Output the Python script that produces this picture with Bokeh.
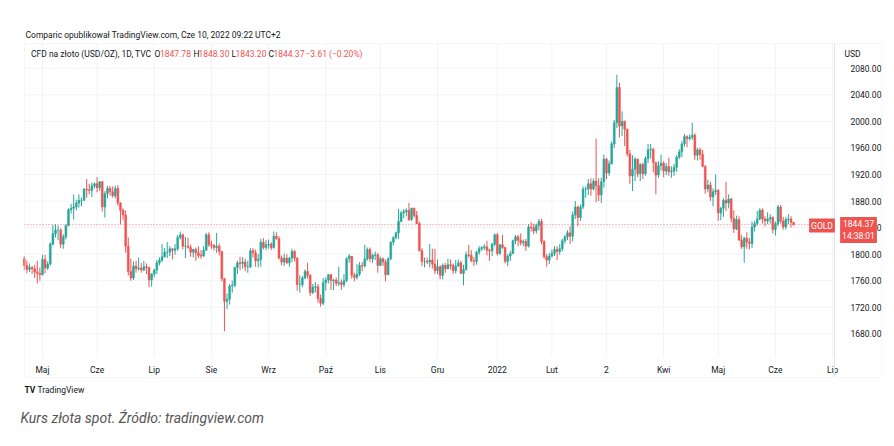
import pandas as pd
from bokeh.plotting import figure
from bokeh.models import (Range1d, FixedTicker, NumeralTickFormatter, Label,
                          BoxAnnotation, ColumnDataSource, LinearAxis)
from bokeh.embed import file_html
from bokeh.resources import INLINE

# ---------------- data (daily candles, CFD gold USD/OZ, TVC) ----------------
START = "2021-04-22"
END = "2022-06-10"

opens = [
    1793, 1783,
    1777, 1780, 1778, 1773, 1771,
    1769, 1792, 1779, 1785, 1815,
    1831, 1836, 1836, 1815, 1826,
    1843, 1867, 1869, 1871, 1877,
    1881, 1881, 1898, 1897, 1896,
    1903, 1906, 1900, 1909, 1871,
    1891, 1899, 1894, 1888, 1899,
    1877, 1866, 1859, 1812, 1774,
    1764, 1782, 1778, 1779, 1776,
    1781, 1780, 1761, 1770, 1776,
    1787, 1791, 1796, 1803, 1803,
    1808, 1806, 1808, 1825, 1829,
    1812, 1812, 1810, 1803, 1807,
    1802, 1798, 1797, 1806, 1829,
    1814, 1813, 1810, 1812, 1804,
    1763, 1729, 1732, 1752, 1753,
    1780, 1787, 1786, 1788, 1781,
    1781, 1805, 1802, 1790, 1792,
    1818, 1810, 1814, 1815, 1810,
    1827, 1823, 1794, 1788, 1794,
    1787, 1794, 1804, 1794, 1754,
    1754, 1764, 1774, 1768, 1742,
    1750, 1751, 1733, 1726, 1757,
    1761, 1769, 1760, 1761, 1756,
    1757, 1754, 1760, 1793, 1797,
    1768, 1765, 1770, 1783, 1782,
    1793, 1807, 1793, 1798, 1799,
    1783, 1793, 1788, 1769, 1793,
    1818, 1825, 1832, 1849, 1862,
    1864, 1866, 1852, 1869, 1858,
    1846, 1805, 1789, 1789, 1788,
    1791, 1785, 1775, 1781, 1768,
    1783, 1778, 1784, 1783, 1775,
    1782, 1787, 1771, 1777, 1799,
    1798, 1790, 1789, 1803, 1808,
    1810, 1811, 1806, 1805, 1815,
    1829, 1801, 1814, 1810, 1789,
    1797, 1801, 1820, 1826, 1821,
    1817, 1819, 1812, 1841, 1840,
    1835, 1843, 1849, 1819, 1796,
    1791, 1797, 1801, 1807, 1804,
    1808, 1820, 1826, 1832, 1827,
    1859, 1871, 1855, 1871, 1898,
    1898, 1906, 1898, 1910, 1903,
    1889, 1909, 1943, 1922, 1936,
    1966, 1998, 2051, 1993, 2000,
    1988, 1951, 1918, 1928, 1943,
    1921, 1935, 1921, 1944, 1957,
    1958, 1938, 1919, 1933, 1937,
    1925, 1932, 1924, 1925, 1931,
    1946, 1954, 1966, 1977, 1974,
    1976, 1979, 1949, 1957, 1950,
    1932, 1898, 1904, 1886, 1894,
    1896, 1862, 1869, 1881, 1877,
    1883, 1854, 1838, 1852, 1821,
    1811, 1824, 1818, 1816, 1841,
    1846, 1853, 1866, 1853, 1850,
    1853, 1855, 1837, 1846, 1871,
    1850, 1841, 1852, 1853, 1847.78,
]

highs = [
    1797, 1790,
    1786, 1782, 1784, 1790, 1780,
    1799, 1799, 1789, 1818, 1844,
    1845, 1843, 1839, 1830, 1845,
    1869, 1876, 1890, 1882, 1890,
    1885, 1899, 1913, 1906, 1908,
    1908, 1916, 1910, 1910, 1895,
    1903, 1903, 1902, 1903, 1904,
    1878, 1869, 1866, 1825, 1793,
    1789, 1790, 1795, 1787, 1790,
    1786, 1781, 1771, 1778, 1791,
    1795, 1815, 1809, 1818, 1812,
    1809, 1815, 1829, 1834, 1831,
    1826, 1825, 1814, 1808, 1810,
    1812, 1806, 1812, 1832, 1833,
    1820, 1815, 1832, 1816, 1805,
    1764, 1741, 1755, 1760, 1781,
    1790, 1796, 1795, 1793, 1790,
    1809, 1809, 1807, 1800, 1823,
    1824, 1821, 1822, 1818, 1834,
    1833, 1827, 1798, 1801, 1800,
    1796, 1808, 1806, 1795, 1768,
    1767, 1777, 1787, 1770, 1755,
    1758, 1755, 1739, 1764, 1765,
    1770, 1770, 1763, 1765, 1781,
    1762, 1770, 1795, 1800, 1797,
    1772, 1785, 1788, 1788, 1814,
    1810, 1810, 1801, 1804, 1802,
    1796, 1795, 1792, 1795, 1819,
    1827, 1834, 1868, 1865, 1868,
    1869, 1877, 1870, 1870, 1865,
    1849, 1809, 1795, 1795, 1815,
    1808, 1808, 1792, 1783, 1786,
    1787, 1793, 1792, 1786, 1791,
    1792, 1790, 1784, 1804, 1814,
    1806, 1796, 1805, 1812, 1812,
    1815, 1820, 1808, 1817, 1831,
    1832, 1815, 1829, 1811, 1800,
    1805, 1822, 1829, 1829, 1831,
    1822, 1823, 1845, 1848, 1846,
    1846, 1853, 1853, 1821, 1800,
    1802, 1807, 1812, 1812, 1815,
    1823, 1829, 1836, 1842, 1864,
    1880, 1873, 1875, 1902, 1902,
    1913, 1914, 1914, 1974, 1914,
    1915, 1950, 1945, 1941, 1970,
    2002, 2070, 2058, 2015, 2001,
    1989, 1957, 1949, 1946, 1944,
    1937, 1938, 1947, 1966, 1966,
    1960, 1939, 1940, 1950, 1940,
    1937, 1945, 1932, 1936, 1949,
    1958, 1970, 1981, 1979, 1980,
    1998, 1982, 1960, 1960, 1957,
    1934, 1912, 1909, 1899, 1920,
    1898, 1871, 1884, 1909, 1890,
    1885, 1866, 1858, 1857, 1829,
    1826, 1833, 1824, 1849, 1850,
    1865, 1869, 1869, 1857, 1863,
    1860, 1857, 1849, 1874, 1874,
    1856, 1856, 1860, 1857, 1848.30,
]

lows = [
    1776, 1771,
    1773, 1770, 1764, 1756, 1760,
    1768, 1771, 1776, 1783, 1813,
    1825, 1821, 1809, 1808, 1822,
    1842, 1861, 1852, 1866, 1870,
    1872, 1880, 1885, 1890, 1886,
    1899, 1893, 1895, 1864, 1855,
    1884, 1888, 1885, 1884, 1873,
    1845, 1851, 1802, 1768, 1760,
    1761, 1772, 1775, 1772, 1774,
    1770, 1750, 1751, 1765, 1770,
    1783, 1788, 1795, 1794, 1797,
    1792, 1799, 1805, 1822, 1807,
    1794, 1808, 1796, 1795, 1790,
    1794, 1793, 1796, 1805, 1811,
    1808, 1805, 1802, 1798, 1759,
    1684, 1717, 1724, 1742, 1750,
    1770, 1776, 1778, 1774, 1772,
    1779, 1795, 1781, 1780, 1781,
    1807, 1806, 1808, 1806, 1808,
    1822, 1792, 1783, 1782, 1785,
    1781, 1788, 1789, 1745, 1742,
    1750, 1762, 1763, 1737, 1740,
    1742, 1727, 1721, 1723, 1745,
    1756, 1746, 1746, 1752, 1752,
    1746, 1750, 1758, 1787, 1763,
    1759, 1762, 1767, 1774, 1780,
    1790, 1788, 1787, 1791, 1772,
    1782, 1782, 1759, 1768, 1791,
    1813, 1822, 1823, 1848, 1854,
    1857, 1850, 1850, 1855, 1845,
    1804, 1782, 1780, 1785, 1780,
    1778, 1770, 1770, 1762, 1762,
    1772, 1777, 1777, 1770, 1771,
    1781, 1770, 1753, 1775, 1795,
    1788, 1782, 1784, 1799, 1805,
    1806, 1798, 1790, 1797, 1812,
    1798, 1799, 1808, 1786, 1782,
    1790, 1800, 1815, 1812, 1813,
    1812, 1805, 1810, 1834, 1830,
    1831, 1836, 1815, 1793, 1781,
    1785, 1795, 1797, 1791, 1799,
    1804, 1816, 1821, 1815, 1819,
    1853, 1842, 1850, 1868, 1885,
    1889, 1888, 1896, 1878, 1880,
    1877, 1900, 1913, 1918, 1935,
    1960, 1990, 1976, 1978, 1963,
    1947, 1906, 1895, 1910, 1916,
    1910, 1913, 1918, 1937, 1944,
    1923, 1890, 1915, 1926, 1916,
    1919, 1918, 1915, 1918, 1924,
    1943, 1946, 1962, 1961, 1971,
    1972, 1942, 1941, 1942, 1931,
    1891, 1893, 1880, 1872, 1889,
    1850, 1851, 1856, 1865, 1869,
    1848, 1832, 1836, 1821, 1808,
    1787, 1808, 1807, 1809, 1834,
    1843, 1851, 1846, 1842, 1845,
    1846, 1831, 1828, 1842, 1846,
    1837, 1837, 1845, 1840, 1843.20,
]

closes = [
    1783, 1777,
    1780, 1778, 1773, 1771, 1769,
    1792, 1779, 1785, 1815, 1831,
    1836, 1836, 1815, 1826, 1843,
    1867, 1869, 1871, 1877, 1881,
    1881, 1898, 1897, 1896, 1903,
    1906, 1900, 1909, 1871, 1891,
    1899, 1894, 1888, 1899, 1877,
    1866, 1859, 1812, 1774, 1764,
    1782, 1778, 1779, 1776, 1781,
    1780, 1761, 1770, 1776, 1787,
    1791, 1796, 1803, 1803, 1808,
    1806, 1808, 1825, 1829, 1812,
    1812, 1810, 1803, 1807, 1802,
    1798, 1797, 1806, 1829, 1814,
    1813, 1810, 1812, 1804, 1763,
    1729, 1732, 1752, 1753, 1780,
    1787, 1786, 1788, 1781, 1781,
    1805, 1802, 1790, 1792, 1818,
    1810, 1814, 1815, 1810, 1827,
    1823, 1794, 1788, 1794, 1787,
    1794, 1804, 1794, 1754, 1754,
    1764, 1774, 1768, 1742, 1750,
    1751, 1733, 1726, 1757, 1761,
    1769, 1760, 1761, 1756, 1757,
    1754, 1760, 1793, 1797, 1768,
    1765, 1770, 1783, 1782, 1793,
    1807, 1793, 1798, 1799, 1783,
    1793, 1788, 1769, 1793, 1818,
    1825, 1832, 1849, 1862, 1864,
    1866, 1852, 1869, 1858, 1846,
    1805, 1789, 1789, 1788, 1791,
    1785, 1775, 1781, 1768, 1783,
    1778, 1784, 1783, 1775, 1782,
    1787, 1771, 1777, 1799, 1798,
    1790, 1789, 1803, 1808, 1810,
    1811, 1806, 1805, 1815, 1829,
    1801, 1814, 1810, 1789, 1797,
    1801, 1820, 1826, 1821, 1817,
    1819, 1812, 1841, 1840, 1835,
    1843, 1849, 1819, 1796, 1791,
    1797, 1801, 1807, 1804, 1808,
    1820, 1826, 1832, 1827, 1859,
    1871, 1855, 1871, 1898, 1898,
    1906, 1898, 1910, 1903, 1889,
    1909, 1943, 1922, 1936, 1966,
    1998, 2051, 1993, 2000, 1988,
    1951, 1918, 1928, 1943, 1921,
    1935, 1921, 1944, 1957, 1958,
    1938, 1919, 1933, 1937, 1925,
    1932, 1924, 1925, 1931, 1946,
    1954, 1966, 1977, 1974, 1976,
    1979, 1949, 1957, 1950, 1932,
    1898, 1904, 1886, 1894, 1896,
    1862, 1869, 1881, 1877, 1883,
    1854, 1838, 1852, 1821, 1811,
    1824, 1818, 1816, 1841, 1846,
    1853, 1866, 1853, 1850, 1853,
    1855, 1837, 1846, 1871, 1850,
    1841, 1852, 1853, 1848, 1844.37,
]

# time-axis tick labels (Polish month names as on TradingView)
month_labels = ["Maj", "Cze", "Lip", "Sie", "Wrz", "Paź", "Lis", "Gru",
                "2022", "Lut", "2", "Kwi", "Maj", "Cze", "Lip"]
month_dates = ["2021-05-03", "2021-06-01", "2021-07-01", "2021-08-02", "2021-09-01",
               "2021-10-01", "2021-11-01", "2021-12-01", "2022-01-03", "2022-02-01",
               "2022-03-02", "2022-04-01", "2022-05-02", "2022-06-01", "2022-07-01"]

price_ticks = [1680, 1720, 1760, 1800, 1840, 1880, 1920, 1960, 2000, 2040, 2080]
last_price = 1844.37
last_ohlc = ["1847.78", "1848.30", "1843.20", "1844.37"]
last_change = "\u22123.61 (\u22120.20%)"
countdown = "14:38:01"

legend_main = "CFD na złoto (USD/OZ), 1D, TVC"
credit_text = "Comparic opublikował TradingView.com, Cze 10, 2022 09:22 UTC+2"
caption_text = "Kurs złota spot. Źródło: tradingview.com"

# ---------------- layout constants (pixels of the 894x446 page) ----------------
W, H = 894, 446
X0, DX = 23.8, 2.599          # page x of bar 0 and bar spacing
Y_REF, P_REF, PPX = 67.7, 2080.0, 1.506   # page y of 2080, USD per pixel
PANE_L, PANE_R, PANE_T, PANE_B = 24, 834, 43, 357
BOX_R, BOX_B = 881, 377


def ix(px):      # page x -> bar index
    return (px - X0) / DX


def pv(py):      # page y -> price
    return P_REF - (py - Y_REF) * PPX


UP = "#26a69a"
DOWN = "#ef5350"
TXT = "#131722"
GRID = "#f0f3fa"
BORDER = "#e0e3eb"
FONT = "Roboto"
FS = "8.5px"

# ---------------- build ----------------
n = len(closes)
dates = pd.bdate_range(START, END)[:n]
ext_dates = pd.bdate_range(START, "2022-07-29")
tick_idx = [int(i) for i in ext_dates.get_indexer(pd.to_datetime(month_dates))]

idx = list(range(n))
colors = [UP if c >= o else DOWN for o, c in zip(opens, closes)]
tops = [max(o, c) for o, c in zip(opens, closes)]
bots = [min(o, c) for o, c in zip(opens, closes)]
src = ColumnDataSource(dict(x=idx, o=opens, h=highs, l=lows, c=closes,
                            top=tops, bot=bots, col=colors,
                            date=[d.strftime("%Y-%m-%d") for d in dates]))

p = figure(width=W, height=H, output_backend="svg", toolbar_location=None,
           x_range=Range1d(ix(0), ix(W)), y_range=Range1d(pv(H), pv(0)),
           x_axis_location=None, y_axis_location=None, title=None,
           min_border=0)
p.background_fill_color = "white"
p.border_fill_color = "white"
p.outline_line_color = None
p.xgrid.visible = False
p.ygrid.visible = False

# pane grid (limited to the price pane)
p.segment(x0=tick_idx, x1=tick_idx, y0=pv(PANE_B), y1=pv(PANE_T),
          line_color=GRID, line_width=1)
p.segment(x0=ix(PANE_L), x1=ix(PANE_R), y0=price_ticks, y1=price_ticks,
          line_color=GRID, line_width=1)

# outer border of the TradingView box
p.add_layout(BoxAnnotation(left=ix(PANE_L), right=ix(BOX_R), bottom=pv(BOX_B),
                           top=pv(PANE_T), fill_alpha=0, line_color=BORDER,
                           line_width=1))

# price axis (right, at the pane's right edge)
ya = LinearAxis(fixed_location=ix(PANE_R), bounds=(pv(BOX_B), pv(PANE_T)),
                ticker=FixedTicker(ticks=price_ticks),
                formatter=NumeralTickFormatter(format="0.00"))
ya.axis_line_color = BORDER
ya.major_tick_line_color = None
ya.minor_tick_line_color = None
ya.major_label_standoff = 10
ya.major_label_text_font = FONT
ya.major_label_text_font_size = FS
ya.major_label_text_color = TXT
p.add_layout(ya, "right")

# time axis (below the pane)
xa = LinearAxis(fixed_location=pv(PANE_B), bounds=(ix(PANE_L), ix(PANE_R)),
                ticker=FixedTicker(ticks=tick_idx))
xa.major_label_overrides = {t: lab for t, lab in zip(tick_idx, month_labels)}
xa.axis_line_color = None
xa.major_tick_line_color = None
xa.minor_tick_line_color = None
xa.major_label_standoff = 1
xa.major_label_text_font = FONT
xa.major_label_text_font_size = FS
xa.major_label_text_color = TXT
p.add_layout(xa, "below")

# candles
p.segment(x0="x", y0="h", x1="x", y1="l", color="col", line_width=1, source=src)
p.vbar(x="x", width=0.72, top="top", bottom="bot", fill_color="col",
       line_color="col", line_width=0.5, source=src)

# last price dotted line
p.segment(x0=ix(PANE_L), x1=ix(PANE_R), y0=last_price, y1=last_price,
          line_color=DOWN, line_dash="1 2", line_width=1, line_alpha=0.8)


def lab(text, px, py, size=FS, color=TXT, align="left", style="normal", **kw):
    l = Label(x=px, y=H - py, x_units="screen", y_units="screen", text=text,
              text_font=FONT, text_font_size=size, text_color=color,
              text_align=align, text_baseline="middle", text_font_style=style, **kw)
    p.add_layout(l)
    return l


# credit line
lab(credit_text, 25, 34)
# legend line
lab(legend_main, 30.5, 53)
parts = [("O", 154, TXT), (last_ohlc[0], 159.5, DOWN), ("H", 193, TXT), (last_ohlc[1], 198, DOWN),
         ("L", 231, TXT), (last_ohlc[2], 235, DOWN), ("C", 268, TXT), (last_ohlc[3], 273, DOWN),
         (last_change, 305, DOWN)]
for t, px, col in parts:
    lab(t, px, 53, color=col)
# currency label
lab("USD", 844, 53)
# symbol / price boxes
lab("GOLD", 821.5, 225, color="white", align="center",
    background_fill_color=DOWN, padding=2)
lab(last_ohlc[3] + "\n" + countdown, 858, 229.5, color="white",
    align="center", background_fill_color=DOWN, padding=2)
# logo + caption
lab("TV", 24, 389, style="bold")
lab("TradingView", 37, 389)
lab(caption_text, 20, 417, size="14px", color="#555555", style="italic")

open("out.html", "w").write(file_html(p, INLINE))
